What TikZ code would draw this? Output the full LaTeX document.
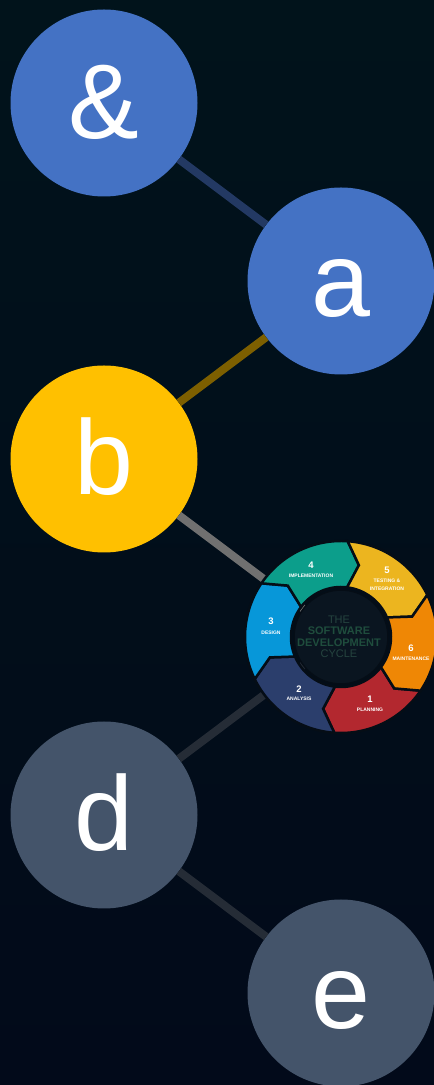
\documentclass[tikz,border=0pt]{standalone}
\usepackage{fontspec}
\setmainfont{Liberation Sans}
\definecolor{bgtop}{HTML}{01131B}
\definecolor{bgbot}{HTML}{020A1A}
\definecolor{oblue}{HTML}{4472C4}
\definecolor{ogold}{HTML}{FFC000}
\definecolor{ogray}{HTML}{44546A}
\definecolor{lblue}{HTML}{233963}
\definecolor{lgold}{HTML}{7D5F00}
\definecolor{lgray}{HTML}{707070}
\definecolor{ldark}{HTML}{252C36}
\definecolor{sred}{HTML}{B3282F}
\definecolor{snavy}{HTML}{2B3E6C}
\definecolor{sblue}{HTML}{0797D9}
\definecolor{steal}{HTML}{0C9E8B}
\definecolor{syellow}{HTML}{ECB51F}
\definecolor{sorange}{HTML}{EF8705}
\definecolor{sgap}{HTML}{050D16}
\definecolor{hub}{HTML}{0A1520}
\definecolor{hubgreen}{HTML}{1F4D3D}
\definecolor{hubgray}{HTML}{25443F}
\tikzset{
	ball/.style={circle,minimum size=187pt,inner sep=0pt,text=white,
		text height=72pt,text depth=0pt,font=\fontsize{106}{106}\selectfont},
	link/.style={line width=8pt},
	num/.style={inner sep=0pt,text=white,font=\bfseries\fontsize{9.5}{10}\selectfont},
	tag/.style={inner sep=0pt,text=white,align=center,font=\bfseries\fontsize{5}{8}\selectfont},
}
\begin{document}
\begin{tikzpicture}[x=1pt,y=1pt]
	\useasboundingbox (0,0) rectangle (434,1085);
	\shade[top color=bgtop,bottom color=bgbot] (0,0) rectangle (434,1085);
	\node[ball,fill=oblue] (amp) at (104,982) {\&};
	\node[ball,fill=oblue] (a) at (341,804) {a};
	\node[ball,fill=ogold] (b) at (104,626) {b};
	\node[circle,minimum size=192pt,inner sep=0pt] (sdlc) at (341,448) {};
	\node[ball,fill=ogray] (d) at (104,270) {d};
	\node[ball,fill=ogray] (e) at (341,92) {e};
	\draw[link,lblue] (amp) -- (a);
	\draw[link,lgold] (a) -- (b);
	\draw[link,lgray] (b) -- (sdlc.center);
	\draw[link,ldark] (sdlc.center) -- (d);
	\draw[link,ldark] (d) -- (e);
	% the cycle
	\begin{scope}[shift={(sdlc.center)}]
	\foreach \p/\col in {-94/sred,-154/snavy,146/sblue,86/steal,26/syellow,-34/sorange}
		\filldraw[fill=\col,draw=sgap,line width=2.5pt,line join=miter]
		(\p+60:96) arc[start angle=\p+60,delta angle=-60,radius=96] -- (\p-10:74) -- (\p-3:50)
		arc[start angle=\p-3,delta angle=60,radius=50] -- (\p+50:74) -- cycle;
	\filldraw[fill=hub,draw=sgap,line width=1.5pt] (0,0) circle (47);
	\foreach \i/\x/\y/\yy/\tg in {1/29/-62/-73/PLANNING,2/-42/-52/-62/ANALYSIS,3/-70/16/4/DESIGN,
		4/-30/72/61/IMPLEMENTATION,5/46/67/52/{TESTING \&\\INTEGRATION},6/70/-11/-22/MAINTENANCE}{
		\node[num] (n\i) at (\x,\y) {\i};
		\node[tag] (t\i) at (\x,\yy) {\tg};
	}
	\node[align=center,text=hubgreen,font=\fontsize{11}{11.5}\selectfont] (title) at (-2,0)
		{{\color{hubgray}THE}\\\textbf{SOFTWARE}\\\textbf{DEVELOPMENT}\\{\color{hubgray}CYCLE}};
	\end{scope}
\end{tikzpicture}
\end{document}
